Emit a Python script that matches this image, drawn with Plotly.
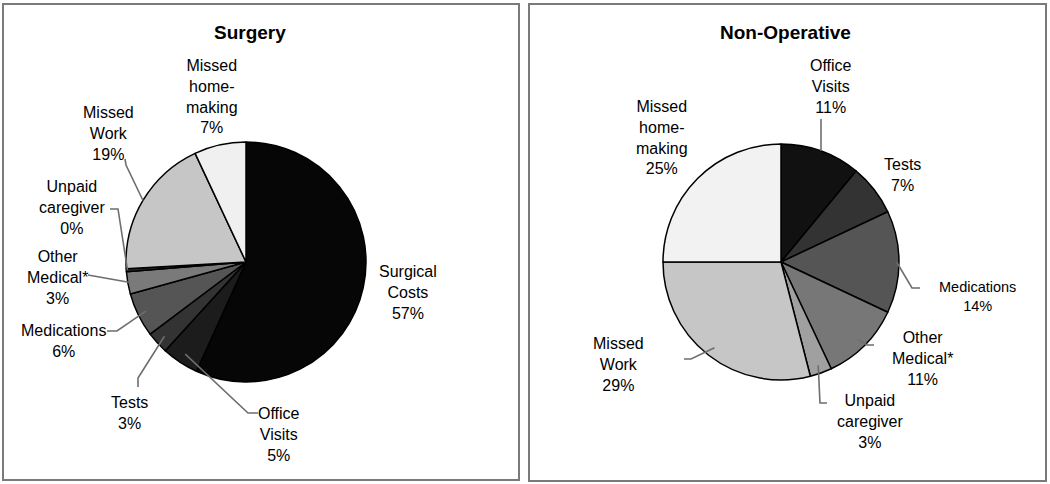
import math
import plotly.graph_objects as go

# ---------------- data ----------------
surgery_labels = ["Surgical<br>Costs", "Office<br>Visits", "Tests", "Medications",
                  "Other<br>Medical*", "Unpaid<br>caregiver", "Missed<br>Work",
                  "Missed<br>home-<br>making"]
surgery_values = [57, 5, 3, 6, 3, 0.4, 19, 7]

nonop_labels = ["Office<br>Visits", "Tests", "Medications", "Other<br>Medical*",
                "Unpaid<br>caregiver", "Missed<br>Work", "Missed<br>home-<br>making"]
nonop_values = [11, 7, 14, 11, 3, 29, 25]

panel_titles = ["Surgery", "Non-Operative"]

# ---------------- style / layout ----------------
W, H = 1050, 484
FONT = "Arial, 'Liberation Sans', sans-serif"

surgery_colors = ["#060606", "#1c1c1c", "#333333", "#555555", "#7a7a7a",
                  "#2a2a2a", "#c6c6c6", "#f0f0f0"]
nonop_colors = ["#111111", "#333333", "#555555", "#777777", "#a0a0a0",
                "#c6c6c6", "#f2f2f2"]

panels = [
    dict(labels=surgery_labels, values=surgery_values, colors=surgery_colors,
         title=panel_titles[0], cx=246, cy=262, r=120, title_x=250,
         box=(3, 4, 519, 480),
         # label centre (x, y), font size, leader points from label side, anchor radius frac
         lab=[((408, 292), 16, None, None),
              ((279, 434), 16, [(258, 413), (248, 413)], 0.92),
              ((129, 413), 16, [(138, 387), (138, 378)], 0.92),
              ((63, 341), 16, [(107, 331), (117, 331)], 0.93),
              ((57, 277), 16, [(88, 275)], 0.98),
              ((72, 207), 16, [(110, 209), (118, 209)], 0.99),
              ((108, 133), 16, [(125, 159), (126, 165)], 1.0),
              ((212, 96), 16, None, None)]),
    dict(labels=nonop_labels, values=nonop_values, colors=nonop_colors,
         title=panel_titles[1], cx=781, cy=262, r=118, title_x=785,
         box=(529, 4, 1046, 481),
         lab=[((831, 86), 16, [(821, 119)], 1.0),
              ((902, 175), 16, None, None),
              ((977, 296), 14.5, [(920, 288), (912, 288)], 0.98),
              ((922, 358), 16, [(874, 345), (867, 345)], 0.93),
              ((870, 421), 16, [(827, 403), (820, 403)], 0.93),
              ((618, 364), 16, [(684, 359), (691, 359)], 0.92),
              ((662, 137), 16, None, None)]),
]

fig = go.Figure()
shapes = []
annotations = []

# invisible pixel-space axes for overlays
fig.add_trace(go.Scatter(x=[0, W], y=[0, H], mode="markers",
                         marker=dict(opacity=0), hoverinfo="skip", showlegend=False))

for p in panels:
    cx, cy, r = p["cx"], p["cy"], p["r"]
    dom_x = [(cx - r) / W, (cx + r) / W]
    dom_y = [(H - cy - r) / H, (H - cy + r) / H]
    fig.add_trace(go.Pie(
        labels=p["labels"], values=p["values"], sort=False,
        direction="clockwise", rotation=0,
        marker=dict(colors=p["colors"], line=dict(color="#000000", width=1.5)),
        textinfo="none", hoverinfo="label+percent", showlegend=False,
        domain=dict(x=dom_x, y=dom_y),
    ))
    total = sum(p["values"])
    cum = 0.0
    for lab, v, (pos, fs, leader, rf) in zip(p["labels"], p["values"], p["lab"]):
        mid = (cum + v / 2) / total
        cum += v
        pct = round(100 * v / total)
        annotations.append(dict(
            x=pos[0], y=pos[1], xref="x", yref="y", showarrow=False,
            text=f"{lab}<br>{pct}%", align="center",
            xanchor="center", yanchor="middle",
            font=dict(family=FONT, size=fs, color="#000000")))
        if leader:
            th = 2 * math.pi * mid
            ax = cx + rf * r * math.sin(th)
            ay = cy - rf * r * math.cos(th)
            pts = list(leader) + [(ax, ay)]
            path = "M " + " L ".join(f"{x:.1f},{y:.1f}" for x, y in pts)
            shapes.append(dict(type="path", path=path, xref="x", yref="y",
                               line=dict(color="#6e6e6e", width=1.6), layer="above"))
    # title
    annotations.append(dict(x=p["title_x"], y=32, xref="x", yref="y", showarrow=False,
                            text=f"<b>{p['title']}</b>", xanchor="center", yanchor="middle",
                            font=dict(family=FONT, size=19, color="#000000")))
    x0, y0, x1, y1 = p["box"]
    shapes.append(dict(type="rect", x0=x0, y0=y0, x1=x1, y1=y1, xref="x", yref="y",
                       line=dict(color="#7a7a7a", width=2), layer="below"))

fig.update_layout(
    width=W, height=H, autosize=False,
    margin=dict(l=0, r=0, t=0, b=0),
    paper_bgcolor="white", plot_bgcolor="rgba(0,0,0,0)",
    xaxis=dict(range=[0, W], visible=False, fixedrange=True, domain=[0, 1]),
    yaxis=dict(range=[H, 0], visible=False, fixedrange=True, domain=[0, 1]),
    shapes=shapes, annotations=annotations,
)

fig.write_html("out.html", config={"displayModeBar": False},
               post_script="document.body.style.margin='0';document.body.style.overflow='hidden';")
